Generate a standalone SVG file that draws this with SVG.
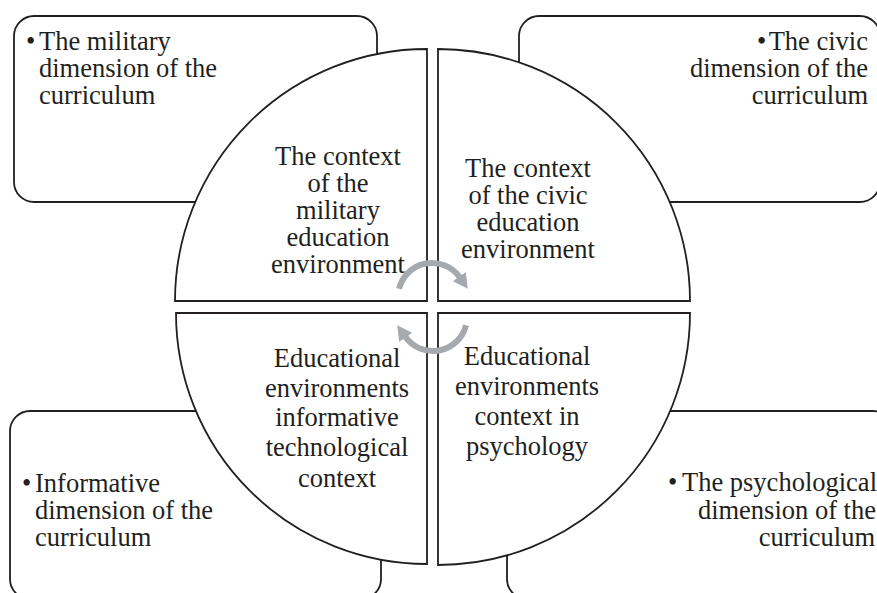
<svg xmlns="http://www.w3.org/2000/svg" width="877" height="593" viewBox="0 0 877 593">
  <defs>
    <style>
      .box { fill: #FFFFFF; stroke: #231F20; stroke-width: 1.8; }
      .quad { fill: #FFFFFF; stroke: #231F20; stroke-width: 1.8; }
      .txt { font-family: "Liberation Serif", "Times New Roman", serif; font-size: 26.5px; fill: #231F20; }
      .mid { text-anchor: middle; }
      .end { text-anchor: end; }
      .cycle { fill: none; stroke: #A6A9AE; stroke-width: 6; marker-end: url(#head); }
    </style>
    <marker id="head" markerUnits="userSpaceOnUse" markerWidth="16" markerHeight="16" viewBox="0 0 14 14" refX="1" refY="7" orient="auto">
      <path d="M0,0 L13,7 L0,14 z" fill="#A6A9AE"/>
    </marker>
  </defs>

  <!-- outer dimension boxes -->
  <g id="box-military">
    <rect class="box" x="14" y="16" width="363" height="186" rx="20" ry="20"/>
    <text class="txt" x="26" y="50">•</text>
    <text class="txt" x="39" y="50">The military</text>
    <text class="txt" x="39" y="77">dimension of the</text>
    <text class="txt" x="39" y="104">curriculum</text>
  </g>
  <g id="box-civic">
    <rect class="box" x="519" y="16" width="361" height="186" rx="20" ry="20"/>
    <text class="txt" x="757" y="50">•</text>
    <text class="txt end" x="868" y="50">The civic</text>
    <text class="txt end" x="868" y="77">dimension of the</text>
    <text class="txt end" x="868" y="104">curriculum</text>
  </g>
  <g id="box-informative">
    <rect class="box" x="10" y="411" width="371" height="188" rx="20" ry="20"/>
    <text class="txt" x="22" y="492">•</text>
    <text class="txt" x="35" y="492">Informative</text>
    <text class="txt" x="35" y="519">dimension of the</text>
    <text class="txt" x="35" y="546">curriculum</text>
  </g>
  <g id="box-psychological">
    <rect class="box" x="507" y="411" width="386" height="188" rx="20" ry="20"/>
    <text class="txt" x="668" y="491">•</text>
    <text class="txt end" x="877" y="491">The psychological</text>
    <text class="txt end" x="876" y="519">dimension of the</text>
    <text class="txt end" x="875" y="546">curriculum</text>
  </g>

  <!-- central circle split into four quadrants -->
  <g id="quad-military">
    <path class="quad" d="M427,49 L427,301 L175,301 A252,252 0 0 1 427,49 Z"/>
    <text class="txt mid" x="338" y="165">The context</text>
    <text class="txt mid" x="338" y="192">of the</text>
    <text class="txt mid" x="338" y="219">military</text>
    <text class="txt mid" x="338" y="246">education</text>
    <text class="txt mid" x="338" y="273">environment</text>
  </g>
  <g id="quad-civic">
    <path class="quad" d="M438,49 A252,252 0 0 1 690,301 L438,301 Z"/>
    <text class="txt mid" x="528" y="177">The context</text>
    <text class="txt mid" x="528" y="204">of the civic</text>
    <text class="txt mid" x="528" y="231">education</text>
    <text class="txt mid" x="528" y="258">environment</text>
  </g>
  <g id="quad-informative">
    <path class="quad" d="M427,313 L427,564 A251,251 0 0 1 176,313 Z"/>
    <text class="txt mid" x="337" y="367">Educational</text>
    <text class="txt mid" x="337" y="397">environments</text>
    <text class="txt mid" x="337" y="426">informative</text>
    <text class="txt mid" x="337" y="456">technological</text>
    <text class="txt mid" x="337" y="487">context</text>
  </g>
  <g id="quad-psychology">
    <path class="quad" d="M438,313 L690,313 A252,252 0 0 1 438,565 Z"/>
    <text class="txt mid" x="527" y="365">Educational</text>
    <text class="txt mid" x="527" y="395">environments</text>
    <text class="txt mid" x="527" y="425">context in</text>
    <text class="txt mid" x="527" y="455">psychology</text>
  </g>

  <!-- circular arrows in the centre -->
  <g id="connectors">
    <path class="cycle" d="M399,288.8 A34,34 0 0 1 459.9,277.5"/>
    <path class="cycle" d="M466,325.2 A34,34 0 0 1 405.1,336.5"/>
  </g>
</svg>
